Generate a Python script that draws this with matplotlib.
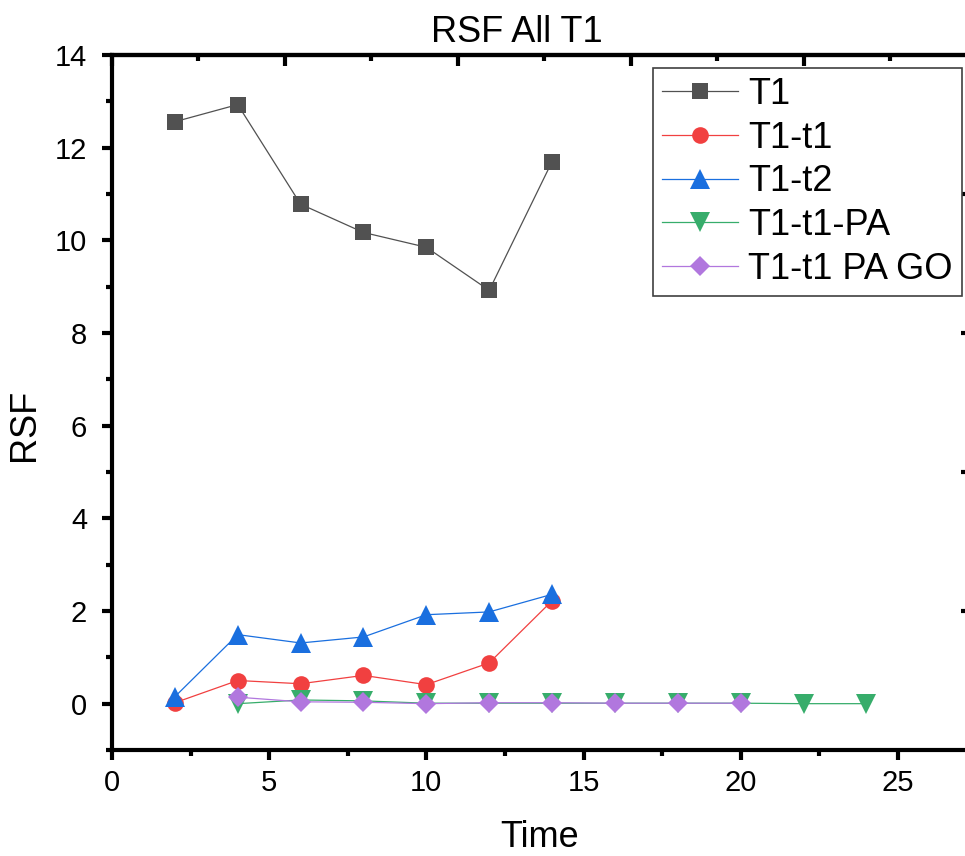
#!/usr/bin/env python3
import matplotlib
matplotlib.use("Agg")
import matplotlib.pyplot as plt

plt.rcParams['font.family'] = ['Liberation Sans', 'DejaVu Sans']

t_short = [2, 4, 6, 8, 10, 12, 14]
t1 = [12.56, 12.93, 10.78, 10.17, 9.85, 8.92, 11.70]
t1_t1 = [0.02, 0.50, 0.43, 0.61, 0.41, 0.88, 2.22]
t1_t2 = [0.15, 1.49, 1.31, 1.44, 1.92, 1.98, 2.36]

t_pa = [4, 6, 8, 10, 12, 14, 16, 18, 20, 22, 24]
t1_t1_pa = [0.0, 0.08, 0.06, 0.01, 0.01, 0.01, 0.01, 0.01, 0.01, 0.0, 0.0]

t_pago = [4, 6, 8, 10, 12, 14, 16, 18, 20]
t1_t1_pago = [0.14, 0.04, 0.03, 0.0, 0.02, 0.02, 0.01, 0.01, 0.01]

top_major = [0, 5.5, 11, 16.5, 22]
top_minor = [2.75, 8.25, 13.75, 19.25, 24.75]
right_ticks = [2, 5, 8, 11]

W, H = 965, 856
fig = plt.figure(figsize=(W / 100, H / 100), dpi=100)
ax = fig.add_axes([112 / W, 1 - 750 / H, (967 - 112) / W, (750 - 55) / H])

lw = 0.9
ax.plot(t_short, t1, color='#515151', lw=lw, marker='s', ms=11.5, mew=0, label='T1')
ax.plot(t_short, t1_t1, color='#F14040', lw=lw, marker='o', ms=12, mew=0, label='T1-t1')
ax.plot(t_short, t1_t2, color='#1A6FDF', lw=lw, marker='^', ms=14, mew=0, label='T1-t2')
ax.plot(t_pa, t1_t1_pa, color='#37AD6B', lw=lw, marker='v', ms=14, mew=0, label='T1-t1-PA')
ax.plot(t_pago, t1_t1_pago, color='#B177DE', lw=lw, marker='D', ms=10, mew=0, label='T1-t1 PA GO')

ax.set_xlim(0, 27.2)
ax.set_ylim(-0.97, 14)
ax.set_xticks([0, 5, 10, 15, 20, 25])
ax.set_xticks([2.5, 7.5, 12.5, 17.5, 22.5], minor=True)
ax.set_yticks([0, 2, 4, 6, 8, 10, 12, 14])
ax.set_yticks([-1, 1, 3, 5, 7, 9, 11, 13], minor=True)

for s in ax.spines.values():
    s.set_linewidth(3)
ax.tick_params(which='both', direction='out', width=3, top=False, right=False)
ax.tick_params(which='major', length=7, labelsize=21)
ax.tick_params(axis='x', which='major', pad=7)
ax.tick_params(axis='y', which='major', pad=11)
ax.tick_params(which='minor', length=4)

top = ax.secondary_xaxis('top')
top.set_xticks(top_major)
top.set_xticks(top_minor, minor=True)
top.tick_params(which='both', direction='in', width=3, labeltop=False)
top.tick_params(which='major', length=8)
top.tick_params(which='minor', length=4)
top.spines['top'].set_linewidth(3)

right = ax.secondary_yaxis('right')
right.set_yticks(right_ticks)
right.tick_params(which='both', direction='in', width=3, length=4, labelright=False)
right.spines['right'].set_linewidth(3)

ax.set_xlabel('Time', fontsize=26)
ax.xaxis.set_label_coords((540 - 112) / 855, (750 - 820) / 695)
ax.set_ylabel('RSF', fontsize=26)
ax.yaxis.set_label_coords((42 - 112) / 855, (750 - 425) / 695)

fig.text(517 / W, 1 - 32 / H, 'RSF All T1', fontsize=26, ha='center', va='center')

leg = ax.legend(loc='upper right', bbox_to_anchor=(962 / W, 1 - 68 / H),
                bbox_transform=fig.transFigure, borderaxespad=0,
                fontsize=26, frameon=True, fancybox=False, framealpha=1,
                handlelength=2.1, handletextpad=0.3, labelspacing=0.24,
                borderpad=0.25)
leg.get_frame().set_edgecolor('#404040')
leg.get_frame().set_linewidth(1.2)

fig.savefig('out.png', dpi=100)
